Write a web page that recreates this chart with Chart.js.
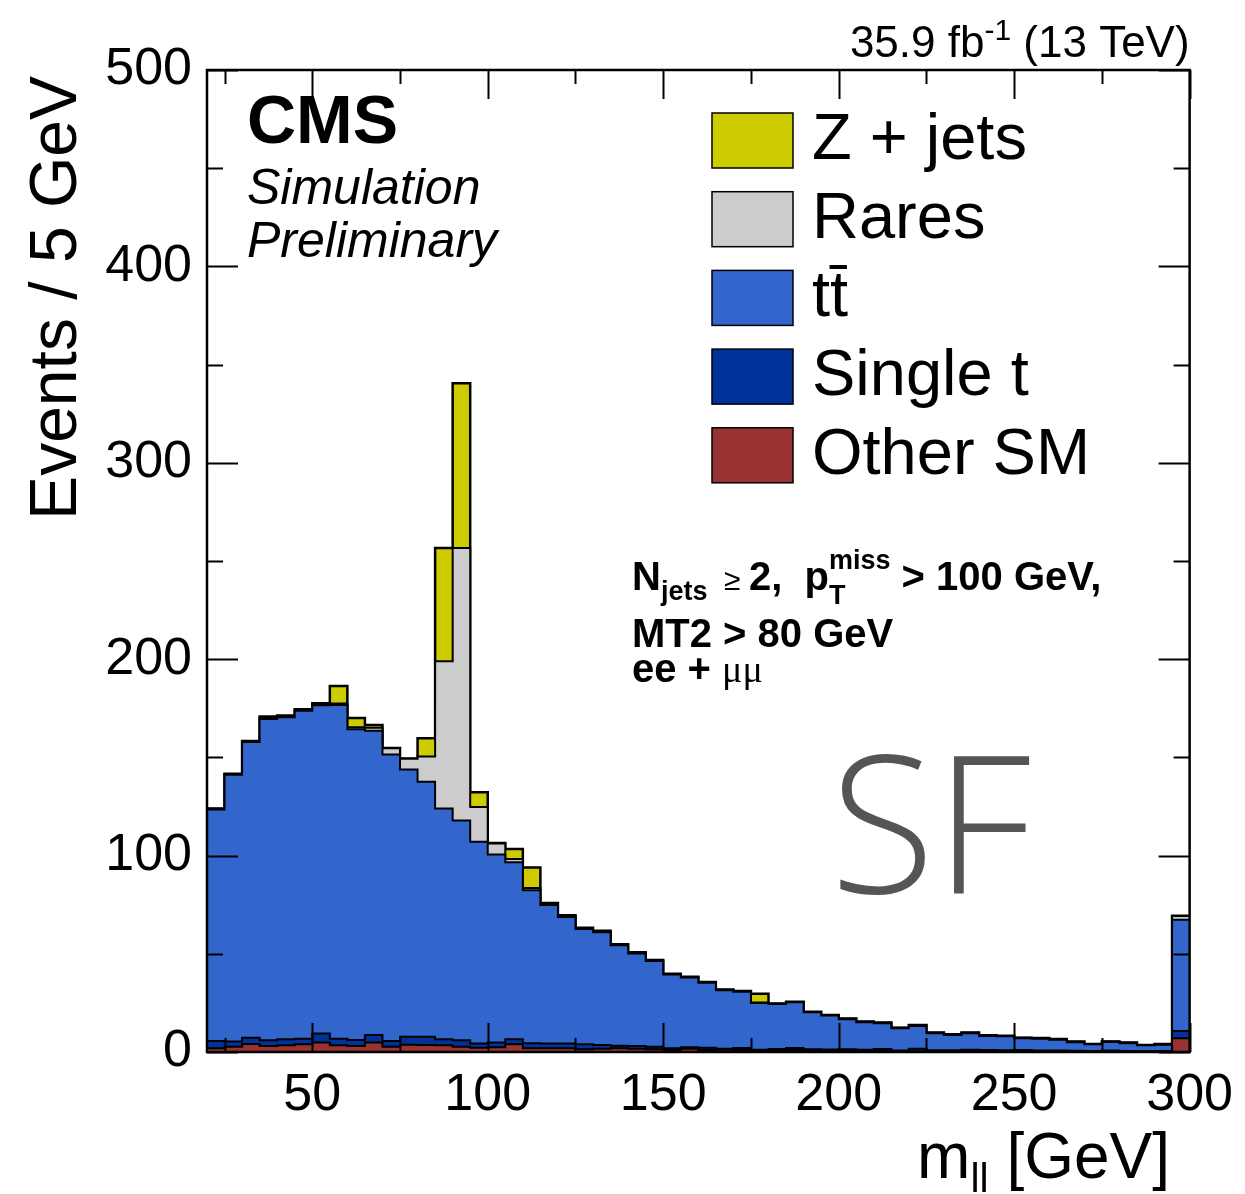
<!DOCTYPE html>
<html><head><meta charset="utf-8">
<script src="https://cdn.jsdelivr.net/npm/chart.js@4/dist/chart.umd.min.js"></script>
<style>html,body{margin:0;padding:0;background:#fff;}canvas{display:block;}</style>
</head><body>
<canvas id="c" width="1245" height="1194"></canvas>
<script>
// bin lower edges (GeV), plus the final upper edge
const binEdges = [20,25,30,35,40,45,50,55,60,65,70,75,80,85,90,95,100,105,110,115,120,125,130,135,140,145,150,155,160,165,170,175,180,185,190,195,200,205,210,215,220,225,230,235,240,245,250,255,260,265,270,275,280,285,290,295,300];

const zjets = [0.2,0.2,0.2,0.5,0.3,0.3,0.5,9.0,4.8,1.4,
  0.2,0.2,9.2,57.6,83.9,7.6,0.3,5.1,10.5,0.5,
  0.3,0.2,0.2,0.2,0.2,0.2,0.1,0.1,0.1,0.1,
  0.1,4.4,0.1,0.1,0.1,0.1,0.1,0.1,0.1,0.1,
  0.1,0.1,0.1,0.1,0.1,0.1,0.1,0.1,0.1,0.1,
  0.1,0.1,0.1,0.1,0.1,0.1];
const rares = [0.3,0.3,0.3,0.8,0.5,0.4,0.6,0.7,1.0,1.5,
  3.1,5.4,12.9,75.0,138.7,17.7,5.6,1.7,1.2,0.6,
  0.5,0.5,0.5,0.4,0.4,0.3,0.3,0.3,0.3,0.3,
  0.3,0.2,0.2,0.2,0.2,0.2,0.2,0.2,0.2,0.2,
  0.4,0.2,0.3,0.2,0.3,0.2,0.2,0.2,0.3,0.2,
  0.1,0.2,0.2,0.1,0.3,2.0];
const ttbar = [117.9,135.9,150.5,163.5,164.0,167.0,167.1,169.9,158.2,154.9,
  145.9,136.1,129.8,117.5,111.9,102.7,95.7,90.1,77.9,70.5,
  64.5,58.7,57.4,51.1,47.2,43.6,37.5,35.5,33.1,29.7,
  28.7,23.8,22.9,23.3,18.8,17.3,15.3,14.0,13.2,11.3,
  11.7,8.7,7.7,8.5,7.1,7.1,6.0,6.0,5.4,4.3,
  3.4,4.3,4.0,3.0,3.2,56.6];
const singlet = [3.7,2.6,3.2,2.9,3.1,2.9,4.6,3.4,3.0,3.9,
  2.9,4.1,4.2,3.0,3.3,2.1,2.4,2.6,2.5,2.4,
  2.4,2.5,1.9,1.3,1.3,1.3,0.9,0.7,1.2,0.5,
  1.0,0.5,0.5,1.0,0.7,0.7,0.9,0.8,1.0,0.5,
  1.2,0.6,0.6,0.8,0.7,0.7,0.7,0.6,0.6,0.5,
  0.4,0.6,0.4,0.3,0.4,3.7];
const othersm = [1.9,2.7,4.1,3.1,3.4,3.9,4.8,3.4,3.1,4.8,
  2.7,3.7,3.6,3.5,2.7,2.2,2.4,3.9,1.9,1.9,
  1.9,1.4,1.7,1.9,1.7,1.4,1.0,1.7,1.0,1.2,
  1.0,0.7,1.0,1.0,0.7,0.6,0.5,0.4,0.5,0.3,
  0.4,0.3,0.3,0.3,0.3,0.2,0.3,0.2,0.2,0.2,
  0.1,0.2,0.1,0.1,0.1,7.0];

const seriesLabels = ['Other SM','Single t','t\u0074\u0304','Rares','Z + jets'];
const xTickValues = [50,100,150,200,250,300];
const xMinorValues = [25,75,125,175,225,275];
const yTickValues = [0,100,200,300,400,500];
const yMinorValues = [50,150,250,350,450];

const layerValues = [othersm, singlet, ttbar, rares, zjets];
const layerColors = ['#993333','#003399','#3366cc','#cccccc','#cccc00'];

const FONT = '"Liberation Sans", Arial, Helvetica, sans-serif';

// cumulative stacks (bottom to top)
let running = new Array(othersm.length).fill(0);
const datasets = layerValues.map((vals, k) => {
  running = running.map((r, i) => r + vals[i]);
  const cum = running.slice();
  return {
    label: seriesLabels[k],
    data: binEdges.map((e, i) => ({x: e, y: cum[Math.min(i, cum.length - 1)]})),
    stepped: 'before',
    fill: 'origin',
    backgroundColor: layerColors[k],
    borderColor: '#000',
    borderWidth: k === 4 ? 2.5 : 2,
    pointRadius: 0,
    tension: 0
  };
});

function drawParts(ctx, x, y, parts) {
  let cx = x;
  for (const p of parts) {
    if (p.stack) {
      let w = 0;
      for (const s of p.stack) {
        ctx.font = s.font;
        ctx.fillText(s.t, cx, y + (s.dy || 0));
        w = Math.max(w, ctx.measureText(s.t).width);
      }
      cx += w;
    } else {
      ctx.font = p.font;
      ctx.fillText(p.t, cx, y + (p.dy || 0));
      cx += ctx.measureText(p.t).width;
    }
  }
  return cx;
}
function partsWidth(ctx, parts) {
  let w = 0;
  for (const p of parts) {
    ctx.font = p.font;
    w += ctx.measureText(p.t).width;
  }
  return w;
}

const decor = {
  id: 'decor',
  afterDatasetsDraw(chart) {
    const ctx = chart.ctx;
    const a = chart.chartArea;
    const xs = chart.scales.x, ys = chart.scales.y;
    ctx.save();
    ctx.strokeStyle = '#000';
    ctx.lineWidth = 2;
    ctx.lineCap = 'butt';
    const tick = (v, len) => {
      const px = Math.round(xs.getPixelForValue(v)) + 0.5;
      ctx.beginPath();
      ctx.moveTo(px, a.bottom); ctx.lineTo(px, a.bottom - len);
      ctx.moveTo(px, a.top); ctx.lineTo(px, a.top + len);
      ctx.stroke();
    };
    xTickValues.forEach(v => tick(v, 29));
    xMinorValues.forEach(v => tick(v, 14));
    const ytick = (v, len) => {
      const py = Math.round(ys.getPixelForValue(v)) + 0.5;
      ctx.beginPath();
      ctx.moveTo(a.left, py); ctx.lineTo(a.left + len, py);
      ctx.moveTo(a.right, py); ctx.lineTo(a.right - len, py);
      ctx.stroke();
    };
    yTickValues.forEach(v => ytick(v, 31));
    yMinorValues.forEach(v => ytick(v, 16));
    ctx.lineWidth = 2.5;
    ctx.strokeRect(a.left, a.top, a.right - a.left, a.bottom - a.top);
    ctx.restore();
  },
  afterDraw(chart) {
    const ctx = chart.ctx;
    const a = chart.chartArea;
    ctx.save();
    ctx.fillStyle = '#000';
    ctx.textBaseline = 'alphabetic';
    ctx.textAlign = 'left';

    const lumi = [
      {t: '35.9 fb', font: `44px ${FONT}`},
      {t: '-1', font: `30px ${FONT}`, dy: -17},
      {t: ' (13 TeV)', font: `44px ${FONT}`}
    ];
    drawParts(ctx, a.right - partsWidth(ctx, lumi), 57, lumi);

    ctx.font = `bold 68px ${FONT}`;
    ctx.fillText('CMS', 247, 143);
    ctx.font = `italic 50px ${FONT}`;
    ctx.fillText('Simulation', 247, 204);
    ctx.fillText('Preliminary', 247, 257);

    const legendOrder = [4, 3, 2, 1, 0];
    legendOrder.forEach((k, j) => {
      const top = 113 + j * 78.7;
      ctx.fillStyle = layerColors[k];
      ctx.fillRect(712, top, 81, 55);
      ctx.lineWidth = 1.5;
      ctx.strokeStyle = '#000';
      ctx.strokeRect(712, top, 81, 55);
      ctx.fillStyle = '#000';
      ctx.font = `65px ${FONT}`;
      ctx.fillText(seriesLabels[k], 812, top + 46);
    });

    const B = `bold 40px ${FONT}`, Bs = `bold 27px ${FONT}`;
    drawParts(ctx, 632, 590, [
      {t: 'N', font: B},
      {t: 'jets', font: Bs, dy: 10},
      {t: '  \u2265 ', font: `30px ${FONT}`},
      {t: '2,  p', font: B},
      {stack: [{t: 'T', font: Bs, dy: 14}, {t: 'miss', font: Bs, dy: -21}]},
      {t: ' > 100 GeV,', font: B}
    ]);
    ctx.font = B;
    ctx.fillText('MT2 > 80 GeV', 632, 647);
    drawParts(ctx, 632, 682, [
      {t: 'ee + ', font: B},
      {t: '\u03bc\u03bc', font: `38px "Liberation Serif", "DejaVu Serif", serif`}
    ]);

    ctx.fillStyle = '#555555';
    ctx.font = `300 192px "Open Sans", ${FONT}`;
    ctx.fillText('SF', 830, 893);

    ctx.fillStyle = '#000';
    const xt = [
      {t: 'm', font: `64px ${FONT}`},
      {t: 'll', font: `41px ${FONT}`, dy: 14},
      {t: ' [GeV]', font: `64px ${FONT}`}
    ];
    drawParts(ctx, 1170 - partsWidth(ctx, xt), 1178, xt);

    ctx.save();
    ctx.translate(76, 76);
    ctx.rotate(-Math.PI / 2);
    ctx.textAlign = 'right';
    ctx.font = `66px ${FONT}`;
    ctx.fillText('Events / 5 GeV', 0, 0);
    ctx.restore();

    ctx.restore();
  }
};

new Chart(document.getElementById('c'), {
  type: 'line',
  data: {datasets},
  options: {
    responsive: false,
    animation: false,
    events: [],
    layout: {padding: {top: 70, right: 53, left: 0, bottom: 0}},
    plugins: {legend: {display: false}, tooltip: {enabled: false}, title: {display: false}},
    scales: {
      x: {
        type: 'linear', min: 20, max: 300,
        grid: {display: false, drawTicks: false},
        border: {display: false},
        afterFit: s => { s.height = 142; },
        afterBuildTicks: s => { s.ticks = xTickValues.map(v => ({value: v})); },
        ticks: {font: {size: 52, family: FONT}, color: '#000', padding: 12, maxRotation: 0, autoSkip: false}
      },
      y: {
        type: 'linear', min: 0, max: 500,
        grid: {display: false, drawTicks: false},
        border: {display: false},
        afterFit: s => { s.width = 207; },
        afterBuildTicks: s => { s.ticks = yTickValues.map(v => ({value: v})); },
        ticks: {font: {size: 52, family: FONT}, color: '#000', padding: 15}
      }
    }
  },
  plugins: [decor]
});
</script>
</body></html>
